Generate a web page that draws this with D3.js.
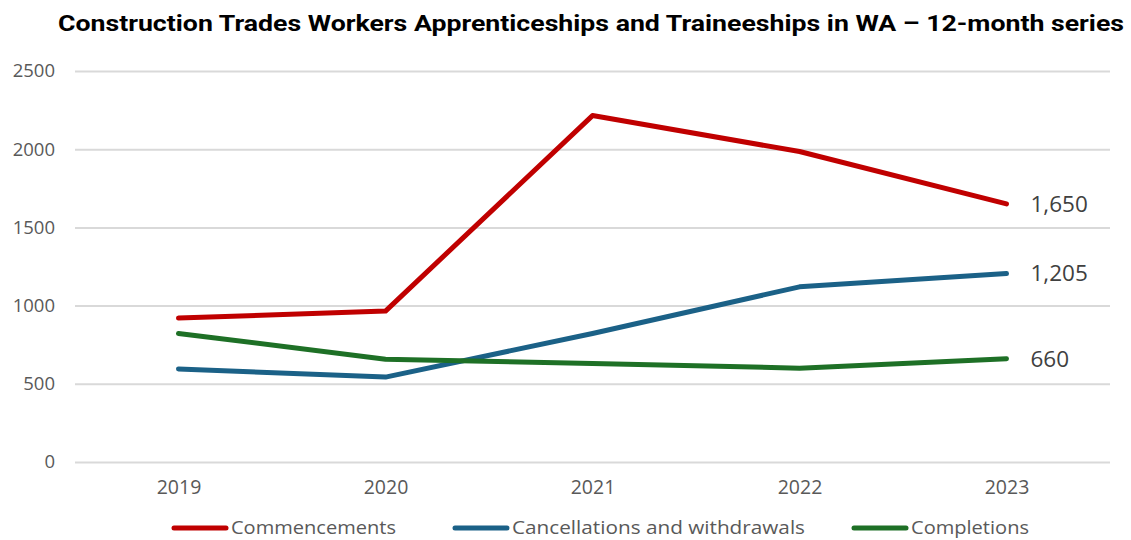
<!DOCTYPE html>
<html>
<head>
<meta charset="utf-8">
<script src="https://cdn.jsdelivr.net/npm/d3@7"></script>
<style>
  body { margin: 0; background: #fff; }
  text { font-family: "Open Sans", "Liberation Sans", sans-serif; }
  text.title { font-family: Roboto, "Liberation Sans", sans-serif; }
</style>
</head>
<body>
<script>
// metrics
const width = 1131, height = 540;
const margin = {top: 71, right: 21, bottom: 78, left: 75};

// data
const years = ["2019", "2020", "2021", "2022", "2023"];
const commencements = [920, 965, 2215, 1985, 1650];
const cancellations = [595, 543, 822, 1120, 1205];
const completions = [822, 657, 630, 600, 660];
const yTicks = [0, 500, 1000, 1500, 2000, 2500];
const seriesNames = ["Commencements", "Cancellations and withdrawals", "Completions"];
const seriesColors = ["#c00000", "#1b6187", "#1e7026"];

const series = [commencements, cancellations, completions].map((values, i) => ({
    name: seriesNames[i], color: seriesColors[i], values
}));

// elements
const svg = d3.select('body').append('svg')
    .attr('width', width)
    .attr('height', height);

// scales
const xScale = d3.scalePoint()
    .domain(years)
    .range([margin.left, width - margin.right])
    .padding(0.5);
const yScale = d3.scaleLinear()
    .domain([0, 2500])
    .range([height - margin.bottom, margin.top]);

// title
svg.append('text')
    .attr('class', 'title')
    .attr('x', 591).attr('y', 31)
    .attr('text-anchor', 'middle')
    .attr('font-weight', 'bold')
    .attr('font-size', 22)
    .attr('textLength', 1066)
    .attr('lengthAdjust', 'spacingAndGlyphs')
    .attr('fill', '#000')
    .text('Construction Trades Workers Apprenticeships and Traineeships in WA \u2013 12-month series');

// gridlines + y axis
const yAxis = svg.append('g')
    .attr('transform', `translate(${margin.left}, 0)`)
    .call(d3.axisLeft(yScale).tickValues(yTicks).tickSize(-(width - margin.left - margin.right)).tickPadding(20).tickFormat(d3.format('d')));
yAxis.select('.domain').remove();
yAxis.selectAll('.tick line').attr('stroke', '#d9d9d9').attr('stroke-width', 2);
yAxis.selectAll('.tick text').attr('fill', '#595959').attr('font-size', 18.5);

// x axis
const xAxis = svg.append('g')
    .attr('transform', `translate(0, ${height - margin.bottom})`)
    .call(d3.axisBottom(xScale).tickSize(0).tickPadding(18));
xAxis.select('.domain').remove();
xAxis.selectAll('.tick text').attr('fill', '#595959').attr('font-size', 19.5);

// lines
const line = d3.line()
    .x((d, i) => xScale(years[i]))
    .y(d => yScale(d));

svg.selectAll('.series')
    .data(series)
    .join('path')
    .attr('class', 'series')
    .attr('d', d => line(d.values))
    .attr('fill', 'none')
    .attr('stroke', d => d.color)
    .attr('stroke-width', 5)
    .attr('stroke-linecap', 'round')
    .attr('stroke-linejoin', 'round');

// end labels
svg.selectAll('.end-label')
    .data(series)
    .join('text')
    .attr('class', 'end-label')
    .attr('x', xScale(years[years.length - 1]) + 24)
    .attr('y', d => yScale(d.values[d.values.length - 1]))
    .attr('dy', '0.35em')
    .attr('fill', '#404040')
    .attr('font-size', 22.5)
    .text(d => d3.format(',')(d.values[d.values.length - 1]));

// legend
const legendX = [172, 453, 852];
const legendW = [165, 293, 118];
const legend = svg.selectAll('.legend')
    .data(series)
    .join('g')
    .attr('class', 'legend')
    .attr('transform', (d, i) => `translate(${legendX[i]}, 528)`);
legend.append('line')
    .attr('x1', 2).attr('x2', 54)
    .attr('stroke', d => d.color)
    .attr('stroke-width', 5)
    .attr('stroke-linecap', 'round');
legend.append('text')
    .attr('x', 59)
    .attr('dy', '0.35em')
    .attr('fill', '#595959')
    .attr('font-size', 18)
    .attr('textLength', (d, i) => legendW[i])
    .attr('lengthAdjust', 'spacingAndGlyphs')
    .text(d => d.name);
</script>
</body>
</html>
